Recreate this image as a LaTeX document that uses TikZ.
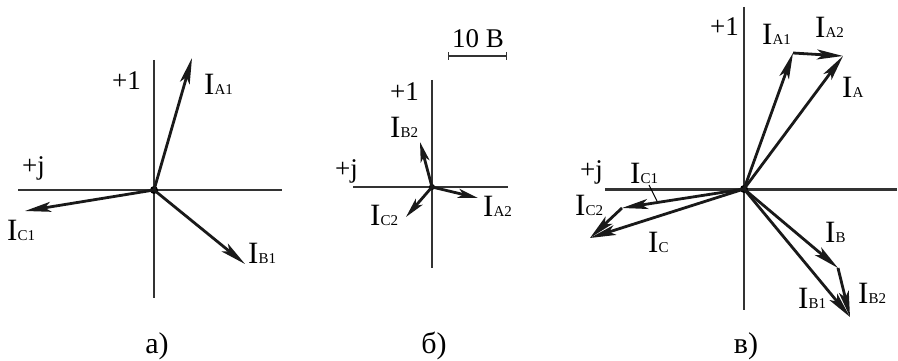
\documentclass[tikz,border=0pt]{standalone}
\usepackage{fontspec}
\setmainfont{Liberation Serif}
\usetikzlibrary{arrows.meta}
\newcommand{\cur}[1]{{\fontsize{31}{31}\selectfont I}{\fontsize{15}{15}\selectfont #1}}

\begin{document}
\begin{tikzpicture}[x=1pt,y=-1pt]
\useasboundingbox (0,0) rectangle (898,361);
\begin{scope}[
    axis/.style={draw=black!80, line width=1.2pt},
    vec/.style={draw=black!90, line width=2.8pt, -{Stealth[length=26pt,width=10pt,inset=6pt]}},
    lab/.style={anchor=base west, inner sep=0pt, font=\fontsize{27}{30}\selectfont},
    dot/.style={circle, fill=black, inner sep=0pt, minimum size=8pt}
]
% Diagram a)
\coordinate (ax1) at (154,60);  \coordinate (ax2) at (154,298);
\coordinate (ay1) at (18,190);  \coordinate (ay2) at (282,190);
\draw[axis] (ax1) -- (ax2);
\draw[axis] (ay1) -- (ay2);
\node[dot] (oa) at (154,190) {};
\coordinate (ia1) at (192,58);
\coordinate (ib1) at (245,264);
\coordinate (ic1) at (25,211);
\draw[vec] (oa.center) -- (ia1);
\draw[vec] (oa.center) -- (ib1);
\draw[vec] (oa.center) -- (ic1);
\node[lab] (p1a) at (112,89) {+1};
\node[lab] (pja) at (22,175) {+j};
\node[lab] (la1) at (204,95) {\cur{A1}};
\node[lab] (lb1) at (248,263) {\cur{B1}};
\node[lab] (lc1) at (7,240) {\cur{C1}};
\node[lab, anchor=base, font=\fontsize{30}{32}\selectfont] (capa) at (157,353) {а)};\end{scope}
\begin{scope}[
    axis/.style={draw=black!80, line width=1.2pt},
    vec/.style={draw=black!90, line width=2.8pt, -{Stealth[length=20pt,width=9pt,inset=5pt]}},
    lab/.style={anchor=base west, inner sep=0pt, font=\fontsize{27}{30}\selectfont},
    dot/.style={circle, fill=black, inner sep=0pt, minimum size=6pt}
]
% Diagram b)
\coordinate (bx1) at (432,80);  \coordinate (bx2) at (432,268);
\coordinate (by1) at (353,187); \coordinate (by2) at (508,187);
\draw[axis] (bx1) -- (bx2);
\draw[axis] (by1) -- (by2);
\node[dot] (ob) at (432,187) {};
\coordinate (ia2) at (478,198);
\coordinate (ib2) at (420,142);
\coordinate (ic2) at (406,217);
\draw[vec] (ob.center) -- (ia2);
\draw[vec] (ob.center) -- (ib2);
\draw[vec] (ob.center) -- (ic2);
\coordinate (sb1) at (448,56);  \coordinate (sb2) at (507,56);
\draw[axis, {Bar[width=8pt]}-{Bar[width=8pt]}] (sb1) -- (sb2);
\node[lab, anchor=base] (scl) at (478,48) {10 В};
\node[lab] (p1b) at (390,100) {+1};
\node[lab] (pjb) at (335,177) {+j};
\node[lab] (la2) at (483,216) {\cur{A2}};
\node[lab] (lb2) at (390,138) {\cur{B2}};
\node[lab] (lc2) at (370,225) {\cur{C2}};
\node[lab, anchor=base, font=\fontsize{30}{32}\selectfont] (capb) at (434,353) {б)};\end{scope}
\begin{scope}[
    axis/.style={draw=black!80, line width=1.2pt},
    vec/.style={draw=black!90, line width=2.8pt, -{Stealth[length=26pt,width=10pt,inset=6pt]}},
    lab/.style={anchor=base west, inner sep=0pt, font=\fontsize{27}{30}\selectfont},
    dot/.style={circle, fill=black, inner sep=0pt, minimum size=8pt}
]
% Diagram c): sums of a) and b)
\coordinate (cx1) at (744,7);   \coordinate (cx2) at (744,310);
\coordinate (cy1) at (605,189); \coordinate (cy2) at (897,189);
\draw[axis] (cx1) -- (cx2);
\draw[axis, line width=3pt] (cy1) -- (cy2);
\node[dot] (oc) at (744,189) {};
\coordinate (ca1) at (793,53);  \coordinate (ca) at (843,56);
\coordinate (cb1) at (838,268); \coordinate (cb) at (850,317);
\coordinate (cc1) at (622,208); \coordinate (cc) at (590,238);
\draw[vec] (oc.center) -- (ca1);
\draw[vec] (ca1) -- (ca);
\draw[vec] (oc.center) -- (ca);
\draw[vec] (oc.center) -- (cb1);
\draw[vec] (cb1) -- (cb);
\draw[vec] (oc.center) -- (cb);
\draw[vec] (oc.center) -- (cc1);
\draw[vec] (cc1) -- (cc);
\draw[vec] (oc.center) -- (cc);
\coordinate (ld1) at (649,185); \coordinate (ld2) at (657,201);
\draw[line width=1pt] (ld1) -- (ld2);
\node[lab] (p1c) at (710,36) {+1};
\node[lab] (pjc) at (580,178) {+j};
\node[lab] (lca1) at (762,45) {\cur{A1}};
\node[lab] (lca2) at (815,38) {\cur{A2}};
\node[lab] (lca) at (842,98) {\cur{A}};
\node[lab] (lcb) at (825,242) {\cur{B}};
\node[lab] (lcb1) at (798,308) {\cur{B1}};
\node[lab] (lcb2) at (858,303) {\cur{B2}};
\node[lab] (lcc1) at (630,183) {\cur{C1}};
\node[lab] (lcc2) at (575,215) {\cur{C2}};
\node[lab] (lcc) at (648,252) {\cur{C}};
\node[lab, anchor=base, font=\fontsize{30}{32}\selectfont] (capc) at (746,353) {в)};\end{scope}
\end{tikzpicture}
\end{document}
